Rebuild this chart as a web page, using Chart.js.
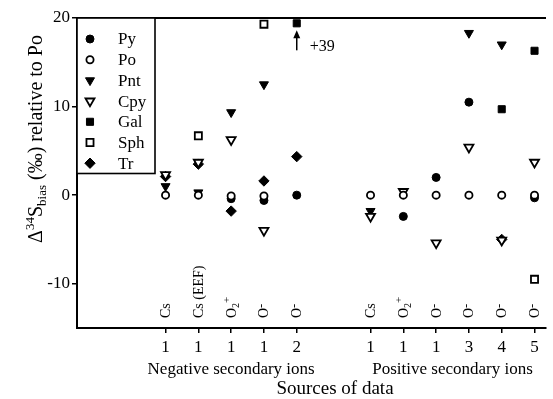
<!DOCTYPE html>
<html>
<head>
<meta charset="utf-8">
<script src="https://cdn.jsdelivr.net/npm/chart.js@4.4.0/dist/chart.umd.min.js"></script>
<style>
  html, body { margin: 0; padding: 0; background: #fff; }
  #wrap { width: 553px; height: 399px; }
</style>
</head>
<body>
<div id="wrap"><canvas id="biasChart" width="553" height="399"></canvas></div>
<script>
// position of each data source along the x axis (gap between the ion groups)
const slots = [0, 1, 2, 3, 4, 6.25, 7.25, 8.25, 9.25, 10.25, 11.25];
const refLabels = ["1", "1", "1", "1", "2", "1", "1", "1", "3", "4", "5"];
const beamLabels = ["Cs", "Cs (EEF)", "O2+", "O-", "O-", "Cs", "O2+", "O-", "O-", "O-", "O-"];
const groupLabels = ["Negative secondary ions", "Positive secondary ions"];

const pyValues  = [null, null, -0.4, -0.6, 0, null, -2.4, 2.0, 10.5, null, -0.3];
const poValues  = [0, 0, -0.1, -0.1, null, 0, 0, 0, 0, 0, 0];
const pntValues = [1.0, 0.3, 9.35, 12.5, null, -1.8, null, null, 18.3, 17.0, null];
const cpyValues = [2.3, 3.7, 6.25, -4.0, null, -2.4, 0.4, -5.4, 5.4, -5.1, 3.7];
const galValues = [null, null, null, null, 39, null, null, null, null, 9.7, 16.3];
const sphValues = [null, 6.7, null, 19.3, null, null, null, null, null, null, -9.5];
const trValues  = [2.1, 3.5, -1.8, 1.6, 4.35, null, null, null, null, -5.0, null];

const yTicks = [-10, 0, 10, 20];
const Y_MIN = -15, Y_MAX = 20;
const OFF_SCALE = 19.4; // anything above the axis is parked on the top edge

const SERIF = "'Liberation Serif', 'DejaVu Serif', serif";

const series = [
  { label: "Py",  data: pyValues,  style: "circle",   filled: true,  r: 4,   order: 3 },
  { label: "Po",  data: poValues,  style: "circle",   filled: false, r: 3.6, order: 0 },
  { label: "Pnt", data: pntValues, style: "triangle", filled: true,  r: 5.2, rot: 180, order: 4 },
  { label: "Cpy", data: cpyValues, style: "triangle", filled: false, r: 5.2, rot: 180, order: 1 },
  { label: "Gal", data: galValues, style: "rect",     filled: true,  r: 5,   order: 5 },
  { label: "Sph", data: sphValues, style: "rect",     filled: false, r: 5,   order: 2 },
  { label: "Tr",  data: trValues,  style: "rectRot",  filled: true,  r: 5.2, order: 6 }
];

function toPoints(values) {
  const pts = [];
  values.forEach((v, i) => {
    if (v !== null) pts.push({ x: slots[i], y: Math.min(v, OFF_SCALE), raw: v });
  });
  return pts;
}

// draws text made of pieces, some raised or lowered (sub/superscripts)
function drawPieces(ctx, pieces, x, y) {
  let cx = x;
  pieces.forEach(p => {
    ctx.font = p.size + "px " + SERIF;
    ctx.fillText(p.t, cx, y + (p.dy || 0));
    cx += ctx.measureText(p.t).width;
  });
  return cx - x;
}

function measurePieces(ctx, pieces) {
  let w = 0;
  pieces.forEach(p => {
    ctx.font = p.size + "px " + SERIF;
    w += ctx.measureText(p.t).width;
  });
  return w;
}

function beamPieces(label) {
  const m = label.match(/^O(\d?)([+-])$/);
  if (!m) return [{ t: label, size: 14 }];
  const parts = [{ t: "O", size: 14 }];
  if (m[1]) parts.push({ t: m[1], size: 10, dy: 3 });
  if (m[2] === "+") parts.push({ t: "+", size: 11, dy: -6 });
  else parts.push({ t: "-", size: 13, dy: -3 });
  return parts;
}

const extras = {
  id: "extras",
  afterDraw(chart) {
    const ctx = chart.ctx;
    const area = chart.chartArea;
    const xs = chart.scales.x;
    ctx.save();
    ctx.fillStyle = "#000";
    ctx.strokeStyle = "#000";

    // top frame line
    ctx.lineWidth = 2;
    ctx.beginPath();
    ctx.moveTo(area.left, area.top);
    ctx.lineTo(area.right, area.top);
    ctx.stroke();

    // legend box
    const lx = area.left, ly = area.top, lw = 78, lh = 155.5;
    ctx.fillStyle = "#fff";
    ctx.fillRect(lx, ly, lw, lh);
    ctx.fillStyle = "#000";
    ctx.lineWidth = 1.6;
    ctx.strokeRect(lx, ly, lw, lh);
    series.forEach((s, i) => {
      const yy = ly + 21 + i * 20.7;
      ctx.fillStyle = s.filled ? "#000" : "#fff";
      ctx.strokeStyle = "#000";
      ctx.lineWidth = s.filled ? 1 : 1.8;
      Chart.helpers.drawPoint(ctx, {
        pointStyle: s.style, radius: s.r, rotation: s.rot || 0,
        borderWidth: s.filled ? 1 : 1.8
      }, lx + 13, yy);
      ctx.fillStyle = "#000";
      ctx.font = "17px " + SERIF;
      ctx.textAlign = "left";
      ctx.textBaseline = "middle";
      ctx.fillText(s.label, lx + 41, yy + 1);
    });

    // ion beam labels standing along the bottom of the plot
    ctx.textAlign = "left";
    ctx.textBaseline = "alphabetic";
    beamLabels.forEach((lab, i) => {
      const px = xs.getPixelForValue(slots[i]);
      ctx.save();
      ctx.translate(px + 4.5, area.bottom - 10);
      ctx.rotate(-Math.PI / 2);
      drawPieces(ctx, beamPieces(lab), 0, 0);
      ctx.restore();
    });

    // group captions under the reference numbers
    ctx.font = "17px " + SERIF;
    ctx.textAlign = "center";
    ctx.textBaseline = "middle";
    const negMid = (xs.getPixelForValue(slots[0]) + xs.getPixelForValue(slots[4])) / 2;
    const posMid = (xs.getPixelForValue(slots[5]) + xs.getPixelForValue(slots[10])) / 2;
    ctx.fillText(groupLabels[0], negMid, 370);
    ctx.fillText(groupLabels[1], posMid, 370);
    ctx.font = "19px " + SERIF;
    ctx.fillText("Sources of data", 335, 389);

    // y axis title
    const title = [
      { t: "\u0394", size: 20 },
      { t: "34", size: 13, dy: -8 },
      { t: "S", size: 20 },
      { t: "bias", size: 13, dy: 4 },
      { t: " (\u2030) relative to Po", size: 20 }
    ];
    ctx.save();
    ctx.textAlign = "left";
    ctx.textBaseline = "alphabetic";
    ctx.translate(42, 139);
    ctx.rotate(-Math.PI / 2);
    drawPieces(ctx, title, -measurePieces(ctx, title) / 2, 0);
    ctx.restore();

    // off-scale galena point: arrow and its true value
    const galMeta = chart.getDatasetMeta(series.findIndex(s => s.label === "Gal"));
    galMeta.data.forEach((el, k) => {
      const raw = galMeta._dataset.data[k].raw;
      if (raw <= Y_MAX) return;
      const ax = el.x, top = el.y + 7;
      ctx.lineWidth = 1.5;
      ctx.beginPath();
      ctx.moveTo(ax, top + 20);
      ctx.lineTo(ax, top + 4);
      ctx.stroke();
      ctx.beginPath();
      ctx.moveTo(ax, top);
      ctx.lineTo(ax - 3.5, top + 8);
      ctx.lineTo(ax + 3.5, top + 8);
      ctx.closePath();
      ctx.fill();
      ctx.font = "16px " + SERIF;
      ctx.textAlign = "left";
      ctx.textBaseline = "middle";
      ctx.fillText("+" + raw, ax + 13, top + 16);
    });
    ctx.restore();
  }
};

new Chart(document.getElementById("biasChart"), {
  type: "scatter",
  data: {
    datasets: series.map(s => ({
      label: s.label,
      data: toPoints(s.data),
      pointStyle: s.style,
      pointRadius: s.r,
      pointHoverRadius: s.r,
      pointRotation: s.rot || 0,
      pointBackgroundColor: s.filled ? "#000" : "#fff",
      pointBorderColor: "#000",
      pointBorderWidth: s.filled ? 1 : 1.8,
      order: s.order,
      clip: false,
      showLine: false
    }))
  },
  options: {
    responsive: false,
    animation: false,
    layout: { padding: { top: 18, right: 0, left: 0, bottom: 0 } },
    plugins: { legend: { display: false }, tooltip: { enabled: false } },
    scales: {
      x: {
        type: "linear",
        min: -2.7,
        max: 11.6,
        afterBuildTicks: axis => { axis.ticks = slots.map(v => ({ value: v })); },
        afterFit: axis => { axis.height = 71; },
        ticks: {
          autoSkip: false, maxRotation: 0, padding: 4,
          color: "#000", font: { family: SERIF, size: 17 },
          callback: (v, i) => refLabels[i]
        },
        grid: { drawOnChartArea: false, tickLength: 5, color: "#000", lineWidth: 1.5 },
        border: { color: "#000", width: 2 }
      },
      y: {
        min: Y_MIN,
        max: Y_MAX,
        afterBuildTicks: axis => { axis.ticks = yTicks.map(v => ({ value: v })); },
        afterFit: axis => { axis.width = 77; },
        ticks: { padding: 2, color: "#000", font: { family: SERIF, size: 17 } },
        grid: { drawOnChartArea: false, tickLength: 5, color: "#000", lineWidth: 1.5 },
        border: { color: "#000", width: 2 }
      }
    }
  },
  plugins: [extras]
});
</script>
</body>
</html>
